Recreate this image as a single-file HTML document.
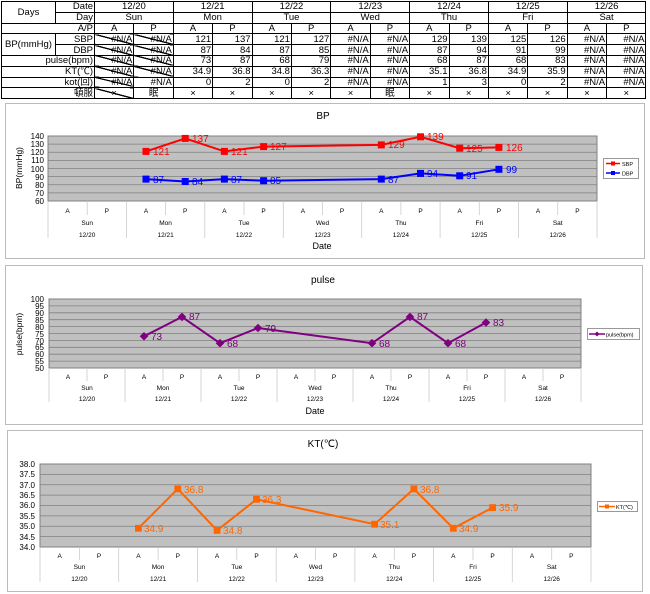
<!DOCTYPE html>
<html><head><meta charset="utf-8">
<style>
body{margin:0;width:650px;height:594px;background:#fff;position:relative;overflow:hidden;font-family:"Liberation Sans","Noto Sans CJK JP",sans-serif}
table{position:absolute;left:1px;top:1px;border-collapse:collapse;table-layout:fixed;font-size:9.5px;line-height:9px}
td{border:1px solid #000;height:9.8px;padding:0 1px;white-space:nowrap;overflow:hidden}
td.c{text-align:center}td.r{text-align:right}
td.x{background:linear-gradient(to top right,transparent 46%,#000 47%,#000 53%,transparent 54%);text-align:right}
svg{position:absolute;left:0;top:0}
</style></head><body>
<table>
<colgroup><col style="width:54px"><col style="width:39px"><col span="14" style="width:39.4px"></colgroup>
<tr><td rowspan="2" class="c">Days</td><td class="r">Date</td><td colspan="2" class="c">12/20</td><td colspan="2" class="c">12/21</td><td colspan="2" class="c">12/22</td><td colspan="2" class="c">12/23</td><td colspan="2" class="c">12/24</td><td colspan="2" class="c">12/25</td><td colspan="2" class="c">12/26</td></tr>
<tr><td class="r">Day</td><td colspan="2" class="c">Sun</td><td colspan="2" class="c">Mon</td><td colspan="2" class="c">Tue</td><td colspan="2" class="c">Wed</td><td colspan="2" class="c">Thu</td><td colspan="2" class="c">Fri</td><td colspan="2" class="c">Sat</td></tr>
<tr><td colspan="2" class="r">A/P</td><td class="c">A</td><td class="c">P</td><td class="c">A</td><td class="c">P</td><td class="c">A</td><td class="c">P</td><td class="c">A</td><td class="c">P</td><td class="c">A</td><td class="c">P</td><td class="c">A</td><td class="c">P</td><td class="c">A</td><td class="c">P</td></tr>
<tr><td rowspan="2" class="c">BP(mmHg)</td><td class="r">SBP</td><td class="x">#N/A</td><td class="x">#N/A</td><td class="r">121</td><td class="r">137</td><td class="r">121</td><td class="r">127</td><td class="r">#N/A</td><td class="r">#N/A</td><td class="r">129</td><td class="r">139</td><td class="r">125</td><td class="r">126</td><td class="r">#N/A</td><td class="r">#N/A</td></tr>
<tr><td class="r">DBP</td><td class="x">#N/A</td><td class="x">#N/A</td><td class="r">87</td><td class="r">84</td><td class="r">87</td><td class="r">85</td><td class="r">#N/A</td><td class="r">#N/A</td><td class="r">87</td><td class="r">94</td><td class="r">91</td><td class="r">99</td><td class="r">#N/A</td><td class="r">#N/A</td></tr>
<tr><td colspan="2" class="r">pulse(bpm)</td><td class="x">#N/A</td><td class="x">#N/A</td><td class="r">73</td><td class="r">87</td><td class="r">68</td><td class="r">79</td><td class="r">#N/A</td><td class="r">#N/A</td><td class="r">68</td><td class="r">87</td><td class="r">68</td><td class="r">83</td><td class="r">#N/A</td><td class="r">#N/A</td></tr>
<tr><td colspan="2" class="r">KT(℃)</td><td class="x">#N/A</td><td class="x">#N/A</td><td class="r">34.9</td><td class="r">36.8</td><td class="r">34.8</td><td class="r">36.3</td><td class="r">#N/A</td><td class="r">#N/A</td><td class="r">35.1</td><td class="r">36.8</td><td class="r">34.9</td><td class="r">35.9</td><td class="r">#N/A</td><td class="r">#N/A</td></tr>
<tr><td colspan="2" class="r">kot(回)</td><td class="x">#N/A</td><td class="r">#N/A</td><td class="r">0</td><td class="r">2</td><td class="r">0</td><td class="r">2</td><td class="r">#N/A</td><td class="r">#N/A</td><td class="r">1</td><td class="r">3</td><td class="r">0</td><td class="r">2</td><td class="r">#N/A</td><td class="r">#N/A</td></tr>
<tr><td colspan="2" class="r">頓服</td><td class="x" style="text-align:center">×</td><td class="c">眠</td><td class="c">×</td><td class="c">×</td><td class="c">×</td><td class="c">×</td><td class="c">×</td><td class="c">眠</td><td class="c">×</td><td class="c">×</td><td class="c">×</td><td class="c">×</td><td class="c">×</td><td class="c">×</td></tr>
</table>

<svg width="650" height="594" viewBox="0 0 650 594" font-family="Liberation Sans, sans-serif">
<!-- ===== BP ===== -->
<rect x="5.5" y="103.5" width="639" height="155" fill="#fff" stroke="#bbb"/>
<text x="323" y="119" font-size="10" text-anchor="middle">BP</text>
<rect x="48" y="136" width="549" height="65" fill="#c0c0c0" stroke="#808080"/>
<g stroke="#808080" stroke-width="0.8">
<line x1="48" x2="597" y1="144.1" y2="144.1"/><line x1="48" x2="597" y1="152.25" y2="152.25"/><line x1="48" x2="597" y1="160.4" y2="160.4"/><line x1="48" x2="597" y1="168.5" y2="168.5"/><line x1="48" x2="597" y1="176.6" y2="176.6"/><line x1="48" x2="597" y1="184.75" y2="184.75"/><line x1="48" x2="597" y1="192.9" y2="192.9"/>
</g>
<g font-size="8" text-anchor="end">
<text x="44" y="139">140</text><text x="44" y="147">130</text><text x="44" y="155">120</text><text x="44" y="163">110</text><text x="44" y="172">100</text><text x="44" y="180">90</text><text x="44" y="188">80</text><text x="44" y="196">70</text><text x="44" y="204">60</text>
</g>
<text transform="translate(22,168) rotate(-90)" font-size="8.5" text-anchor="middle">BP(mmHg)</text>
<g stroke="#ccc" stroke-width="0.8">
<line x1="48" x2="48" y1="201" y2="238"/><line x1="126.4" x2="126.4" y1="201" y2="238"/><line x1="204.8" x2="204.8" y1="201" y2="238"/><line x1="283.3" x2="283.3" y1="201" y2="238"/><line x1="361.7" x2="361.7" y1="201" y2="238"/><line x1="440.1" x2="440.1" y1="201" y2="238"/><line x1="518.5" x2="518.5" y1="201" y2="238"/><line x1="597" x2="597" y1="201" y2="238"/>
<line x1="87.2" x2="87.2" y1="201" y2="215"/><line x1="165.6" x2="165.6" y1="201" y2="215"/><line x1="244" x2="244" y1="201" y2="215"/><line x1="322.5" x2="322.5" y1="201" y2="215"/><line x1="400.9" x2="400.9" y1="201" y2="215"/><line x1="479.3" x2="479.3" y1="201" y2="215"/><line x1="557.7" x2="557.7" y1="201" y2="215"/>
</g>
<g font-size="6.5" text-anchor="middle">
<text x="67.6" y="213">A</text><text x="106.8" y="213">P</text><text x="146" y="213">A</text><text x="185.2" y="213">P</text><text x="224.4" y="213">A</text><text x="263.6" y="213">P</text><text x="302.9" y="213">A</text><text x="342.1" y="213">P</text><text x="381.3" y="213">A</text><text x="420.5" y="213">P</text><text x="459.7" y="213">A</text><text x="498.9" y="213">P</text><text x="538.1" y="213">A</text><text x="577.4" y="213">P</text>
<text x="87.2" y="225">Sun</text><text x="165.6" y="225">Mon</text><text x="244" y="225">Tue</text><text x="322.5" y="225">Wed</text><text x="400.9" y="225">Thu</text><text x="479.3" y="225">Fri</text><text x="557.7" y="225">Sat</text>
<text x="87.2" y="237">12/20</text><text x="165.6" y="237">12/21</text><text x="244" y="237">12/22</text><text x="322.5" y="237">12/23</text><text x="400.9" y="237">12/24</text><text x="479.3" y="237">12/25</text><text x="557.7" y="237">12/26</text>
</g>
<text x="322" y="249" font-size="9" text-anchor="middle">Date</text>
<polyline fill="none" stroke="#f00" stroke-width="2" points="146,151.4 185.2,138.4 224.4,151.4 263.6,146.6 381.3,144.9 420.5,136.8 459.7,148.2 498.9,147.4"/>
<g fill="#f00"><rect x="142.5" y="147.9" width="7" height="7"/><rect x="181.7" y="134.9" width="7" height="7"/><rect x="220.9" y="147.9" width="7" height="7"/><rect x="260.1" y="143.1" width="7" height="7"/><rect x="377.8" y="141.4" width="7" height="7"/><rect x="417" y="133.3" width="7" height="7"/><rect x="456.2" y="144.7" width="7" height="7"/><rect x="495.4" y="143.9" width="7" height="7"/></g>
<g fill="#f00" font-size="10"><text x="153" y="155">121</text><text x="192" y="142">137</text><text x="231" y="155">121</text><text x="270" y="150">127</text><text x="388" y="148">129</text><text x="427" y="140">139</text><text x="466" y="152">125</text><text x="506" y="151">126</text></g>
<polyline fill="none" stroke="#00f" stroke-width="2" points="146,179.1 185.2,181.5 224.4,179.1 263.6,180.7 381.3,179.1 420.5,173.4 459.7,175.8 498.9,169.3"/>
<g fill="#00f"><rect x="142.5" y="175.6" width="7" height="7"/><rect x="181.7" y="178" width="7" height="7"/><rect x="220.9" y="175.6" width="7" height="7"/><rect x="260.1" y="177.2" width="7" height="7"/><rect x="377.8" y="175.6" width="7" height="7"/><rect x="417" y="169.9" width="7" height="7"/><rect x="456.2" y="172.3" width="7" height="7"/><rect x="495.4" y="165.8" width="7" height="7"/></g>
<g fill="#00f" font-size="10"><text x="153" y="183">87</text><text x="192" y="185">84</text><text x="231" y="183">87</text><text x="270" y="184">85</text><text x="388" y="183">87</text><text x="427" y="177">94</text><text x="466" y="179">91</text><text x="506" y="173">99</text></g>
<rect x="603.5" y="158.5" width="35" height="20" fill="#fff" stroke="#999"/>
<line x1="606" x2="620" y1="163.5" y2="163.5" stroke="#f00" stroke-width="1.5"/><rect x="611" y="161.5" width="4" height="4" fill="#f00"/>
<line x1="606" x2="620" y1="173" y2="173" stroke="#00f" stroke-width="1.5"/><rect x="611" y="171" width="4" height="4" fill="#00f"/>
<text x="622" y="166" font-size="5.5">SBP</text><text x="622" y="175.5" font-size="5.5">DBP</text>

<!-- ===== pulse ===== -->
<rect x="5.5" y="265.5" width="637" height="159" fill="#fff" stroke="#bbb"/>
<text x="323" y="283" font-size="10" text-anchor="middle">pulse</text>
<rect x="49" y="299" width="532" height="69" fill="#c0c0c0" stroke="#808080"/>
<g stroke="#808080" stroke-width="0.8">
<line x1="49" x2="581" y1="305.9" y2="305.9"/><line x1="49" x2="581" y1="312.8" y2="312.8"/><line x1="49" x2="581" y1="319.7" y2="319.7"/><line x1="49" x2="581" y1="326.6" y2="326.6"/><line x1="49" x2="581" y1="333.5" y2="333.5"/><line x1="49" x2="581" y1="340.4" y2="340.4"/><line x1="49" x2="581" y1="347.3" y2="347.3"/><line x1="49" x2="581" y1="354.2" y2="354.2"/><line x1="49" x2="581" y1="361.1" y2="361.1"/>
</g>
<g font-size="8" text-anchor="end">
<text x="44" y="302">100</text><text x="44" y="309">95</text><text x="44" y="316">90</text><text x="44" y="323">85</text><text x="44" y="330">80</text><text x="44" y="337">75</text><text x="44" y="344">70</text><text x="44" y="350">65</text><text x="44" y="357">60</text><text x="44" y="364">55</text><text x="44" y="371">50</text>
</g>
<text transform="translate(22,334) rotate(-90)" font-size="8.5" text-anchor="middle">pulse(bpm)</text>
<g stroke="#ccc" stroke-width="0.8">
<line x1="49" x2="49" y1="368" y2="402"/><line x1="125" x2="125" y1="368" y2="402"/><line x1="201" x2="201" y1="368" y2="402"/><line x1="277" x2="277" y1="368" y2="402"/><line x1="353" x2="353" y1="368" y2="402"/><line x1="429" x2="429" y1="368" y2="402"/><line x1="505" x2="505" y1="368" y2="402"/><line x1="581" x2="581" y1="368" y2="402"/>
<line x1="87" x2="87" y1="368" y2="381"/><line x1="163" x2="163" y1="368" y2="381"/><line x1="239" x2="239" y1="368" y2="381"/><line x1="315" x2="315" y1="368" y2="381"/><line x1="391" x2="391" y1="368" y2="381"/><line x1="467" x2="467" y1="368" y2="381"/><line x1="543" x2="543" y1="368" y2="381"/>
</g>
<g font-size="6.5" text-anchor="middle">
<text x="68" y="379">A</text><text x="106" y="379">P</text><text x="144" y="379">A</text><text x="182" y="379">P</text><text x="220" y="379">A</text><text x="258" y="379">P</text><text x="296" y="379">A</text><text x="334" y="379">P</text><text x="372" y="379">A</text><text x="410" y="379">P</text><text x="448" y="379">A</text><text x="486" y="379">P</text><text x="524" y="379">A</text><text x="562" y="379">P</text>
<text x="87" y="390">Sun</text><text x="163" y="390">Mon</text><text x="239" y="390">Tue</text><text x="315" y="390">Wed</text><text x="391" y="390">Thu</text><text x="467" y="390">Fri</text><text x="543" y="390">Sat</text>
<text x="87" y="401">12/20</text><text x="163" y="401">12/21</text><text x="239" y="401">12/22</text><text x="315" y="401">12/23</text><text x="391" y="401">12/24</text><text x="467" y="401">12/25</text><text x="543" y="401">12/26</text>
</g>
<text x="315" y="414" font-size="9" text-anchor="middle">Date</text>
<polyline fill="none" stroke="#800080" stroke-width="2" points="144,336.3 182,316.9 220,343.2 258,328 372,343.2 410,316.9 448,343.2 486,322.5"/>
<g fill="#800080">
<polygon points="144,332 148.3,336.3 144,340.6 139.7,336.3"/><polygon points="182,312.6 186.3,316.9 182,321.2 177.7,316.9"/><polygon points="220,338.9 224.3,343.2 220,347.5 215.7,343.2"/><polygon points="258,323.7 262.3,328 258,332.3 253.7,328"/><polygon points="372,338.9 376.3,343.2 372,347.5 367.7,343.2"/><polygon points="410,312.6 414.3,316.9 410,321.2 405.7,316.9"/><polygon points="448,338.9 452.3,343.2 448,347.5 443.7,343.2"/><polygon points="486,318.2 490.3,322.5 486,326.8 481.7,322.5"/>
</g>
<g fill="#800080" font-size="10"><text x="151" y="340">73</text><text x="189" y="320">87</text><text x="227" y="347">68</text><text x="265" y="332">79</text><text x="379" y="347">68</text><text x="417" y="320">87</text><text x="455" y="347">68</text><text x="493" y="326">83</text></g>
<rect x="587.5" y="328.5" width="52" height="11" fill="#fff" stroke="#999"/>
<line x1="589" x2="605" y1="334" y2="334" stroke="#800080" stroke-width="1.5"/><polygon points="597,331.5 599.5,334 597,336.5 594.5,334" fill="#800080"/>
<text x="606" y="336.5" font-size="5.5">pulse(bpm)</text>

<!-- ===== KT ===== -->
<rect x="7.5" y="430.5" width="635" height="161" fill="#fff" stroke="#bbb"/>
<text x="323" y="447" font-size="10" text-anchor="middle">KT(℃)</text>
<rect x="40" y="464" width="551" height="83" fill="#c0c0c0" stroke="#808080"/>
<g stroke="#808080" stroke-width="0.8">
<line x1="40" x2="591" y1="474.4" y2="474.4"/><line x1="40" x2="591" y1="484.75" y2="484.75"/><line x1="40" x2="591" y1="495.1" y2="495.1"/><line x1="40" x2="591" y1="505.5" y2="505.5"/><line x1="40" x2="591" y1="515.9" y2="515.9"/><line x1="40" x2="591" y1="526.25" y2="526.25"/><line x1="40" x2="591" y1="536.6" y2="536.6"/>
</g>
<g font-size="8" text-anchor="end">
<text x="35" y="467">38.0</text><text x="35" y="477">37.5</text><text x="35" y="488">37.0</text><text x="35" y="498">36.5</text><text x="35" y="508">36.0</text><text x="35" y="519">35.5</text><text x="35" y="529">35.0</text><text x="35" y="540">34.5</text><text x="35" y="550">34.0</text>
</g>
<g stroke="#ccc" stroke-width="0.8">
<line x1="40" x2="40" y1="547" y2="582"/><line x1="118.7" x2="118.7" y1="547" y2="582"/><line x1="197.4" x2="197.4" y1="547" y2="582"/><line x1="276.2" x2="276.2" y1="547" y2="582"/><line x1="354.9" x2="354.9" y1="547" y2="582"/><line x1="433.6" x2="433.6" y1="547" y2="582"/><line x1="512.3" x2="512.3" y1="547" y2="582"/><line x1="591" x2="591" y1="547" y2="582"/>
<line x1="79.4" x2="79.4" y1="547" y2="560"/><line x1="158.1" x2="158.1" y1="547" y2="560"/><line x1="236.8" x2="236.8" y1="547" y2="560"/><line x1="315.5" x2="315.5" y1="547" y2="560"/><line x1="394.3" x2="394.3" y1="547" y2="560"/><line x1="473" x2="473" y1="547" y2="560"/><line x1="551.7" x2="551.7" y1="547" y2="560"/>
</g>
<g font-size="6.5" text-anchor="middle">
<text x="59.7" y="558">A</text><text x="99" y="558">P</text><text x="138.4" y="558">A</text><text x="177.8" y="558">P</text><text x="217.1" y="558">A</text><text x="256.5" y="558">P</text><text x="295.8" y="558">A</text><text x="335.2" y="558">P</text><text x="374.6" y="558">A</text><text x="413.9" y="558">P</text><text x="453.3" y="558">A</text><text x="492.6" y="558">P</text><text x="532" y="558">A</text><text x="571.3" y="558">P</text>
<text x="79.4" y="569">Sun</text><text x="158.1" y="569">Mon</text><text x="236.8" y="569">Tue</text><text x="315.5" y="569">Wed</text><text x="394.3" y="569">Thu</text><text x="473" y="569">Fri</text><text x="551.7" y="569">Sat</text>
<text x="79.4" y="581">12/20</text><text x="158.1" y="581">12/21</text><text x="236.8" y="581">12/22</text><text x="315.5" y="581">12/23</text><text x="394.3" y="581">12/24</text><text x="473" y="581">12/25</text><text x="551.7" y="581">12/26</text>
</g>
<polyline fill="none" stroke="#ff6600" stroke-width="2" points="138.4,528.3 177.8,488.9 217.1,530.4 256.5,499.3 374.6,524.2 413.9,488.9 453.3,528.3 492.6,507.6"/>
<g fill="#ff6600"><rect x="135" y="524.9" width="6.8" height="6.8"/><rect x="174.4" y="485.5" width="6.8" height="6.8"/><rect x="213.7" y="527" width="6.8" height="6.8"/><rect x="253.1" y="495.9" width="6.8" height="6.8"/><rect x="371.2" y="520.8" width="6.8" height="6.8"/><rect x="410.5" y="485.5" width="6.8" height="6.8"/><rect x="449.9" y="524.9" width="6.8" height="6.8"/><rect x="489.2" y="504.2" width="6.8" height="6.8"/></g>
<g fill="#ff6600" font-size="10"><text x="144" y="532">34.9</text><text x="184" y="493">36.8</text><text x="223" y="534">34.8</text><text x="262" y="503">36.3</text><text x="380" y="528">35.1</text><text x="420" y="493">36.8</text><text x="459" y="532">34.9</text><text x="499" y="511">35.9</text></g>
<rect x="597.5" y="501.5" width="40" height="10" fill="#fff" stroke="#999"/>
<line x1="599" x2="615" y1="506.5" y2="506.5" stroke="#ff6600" stroke-width="1.5"/><rect x="605" y="504.5" width="4" height="4" fill="#ff6600"/>
<text x="616" y="509" font-size="5.5">KT(℃)</text>
</svg>
</body></html>
